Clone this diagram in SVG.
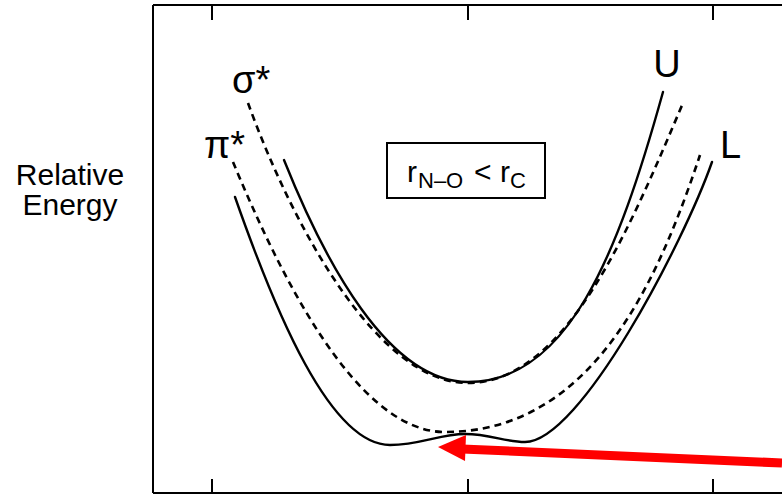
<svg xmlns="http://www.w3.org/2000/svg" width="782" height="496" viewBox="0 0 782 496">
<style>
.frame{fill:none;stroke:#000;stroke-width:2}
.solid{fill:none;stroke:#000;stroke-width:2.4;stroke-linecap:round}
.dash{fill:none;stroke:#000;stroke-width:2.6;stroke-dasharray:7 5}
.t{font-family:"Liberation Sans",Arial,sans-serif;fill:#000}
</style>
<rect width="782" height="496" fill="#fff"/>
<g id="axes">
<path class="frame" d="M153,5 V493 M153,5 H782 M153,493 H782"/>
<path class="frame" d="M212,5 V20 M468,5 V20 M713,5 V20 M212,493 V479 M468,493 V479 M713,493 V479"/>
</g>
<g id="ylabel">
<text class="t" x="70" y="185" font-size="30" text-anchor="middle">Relative</text>
<text class="t" x="70" y="215" font-size="30" text-anchor="middle">Energy</text>
</g>
<g id="curves">
<path id="U" class="solid" d="M284,160 C324,260 388,382 468,382 C568,382 618,254 663,92"/>
<path id="sigma" class="dash" d="M248,103 C293,227 378,383 468,383 C568,383 633,220 683,103"/>
<path id="pi" class="dash" d="M233,162 C278,270 355,432 445,432 C595,432 660,275 700,155"/>
<path id="L" class="solid" d="M235,197 C275,311 330,445 390,445 C420,445 440,434 465,434 C490,434 505,442 525,442 C580,442 684,242 712,162"/>
</g>
<g id="labels">
<text class="t" x="232" y="93" font-size="38">σ*</text>
<text class="t" x="204" y="158" font-size="38">π*</text>
<text class="t" x="667" y="77" font-size="38" text-anchor="middle">U</text>
<text class="t" x="720" y="158" font-size="38">L</text>
</g>
<g id="box">
<rect x="387" y="143" width="158" height="55" fill="none" stroke="#000" stroke-width="2"/>
<text class="t" x="407" y="182" font-size="30">r</text>
<text class="t" x="418" y="188" font-size="22">N–O</text>
<text class="t" x="474" y="182" font-size="30">&lt;</text>
<text class="t" x="500" y="182" font-size="30">r</text>
<text class="t" x="510" y="188" font-size="22">C</text>
</g>
<g id="arrow">
<line x1="782" y1="463" x2="462" y2="449" stroke="#f00" stroke-width="9"/>
<polygon points="438,447 466,435 465,461" fill="#f00"/>
</g>
</svg>
